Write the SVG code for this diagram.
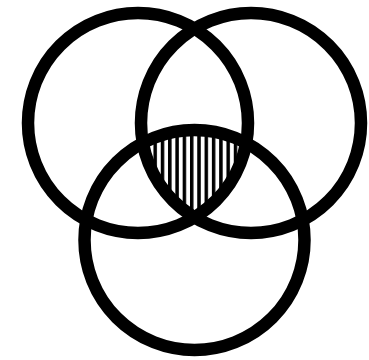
<svg xmlns="http://www.w3.org/2000/svg" width="369" height="360" viewBox="0 0 369 360">
  <style>
    .ring { fill: none; stroke: #000; stroke-width: 12.5; }
  </style>
  <defs>
    <pattern id="hatch" patternUnits="userSpaceOnUse" x="189.95" y="0" width="7.3" height="10">
      <rect x="0" y="0" width="3.5" height="10" fill="#000"/>
    </pattern>
    <clipPath id="clipL"><circle cx="138" cy="123" r="110"/></clipPath>
    <clipPath id="clipR"><circle cx="251" cy="123" r="110"/></clipPath>
  </defs>
  <rect width="369" height="360" fill="#fff"/>
  <g id="hatched-region" clip-path="url(#clipL)">
    <g clip-path="url(#clipR)">
      <circle cx="194.5" cy="240" r="110" fill="url(#hatch)"/>
    </g>
  </g>
  <g id="circle-left"><circle class="ring" cx="138" cy="123" r="110"/></g>
  <g id="circle-right"><circle class="ring" cx="251" cy="123" r="110"/></g>
  <g id="circle-bottom"><circle class="ring" cx="194.5" cy="240" r="110"/></g>
  <g id="connectors"/>
</svg>
